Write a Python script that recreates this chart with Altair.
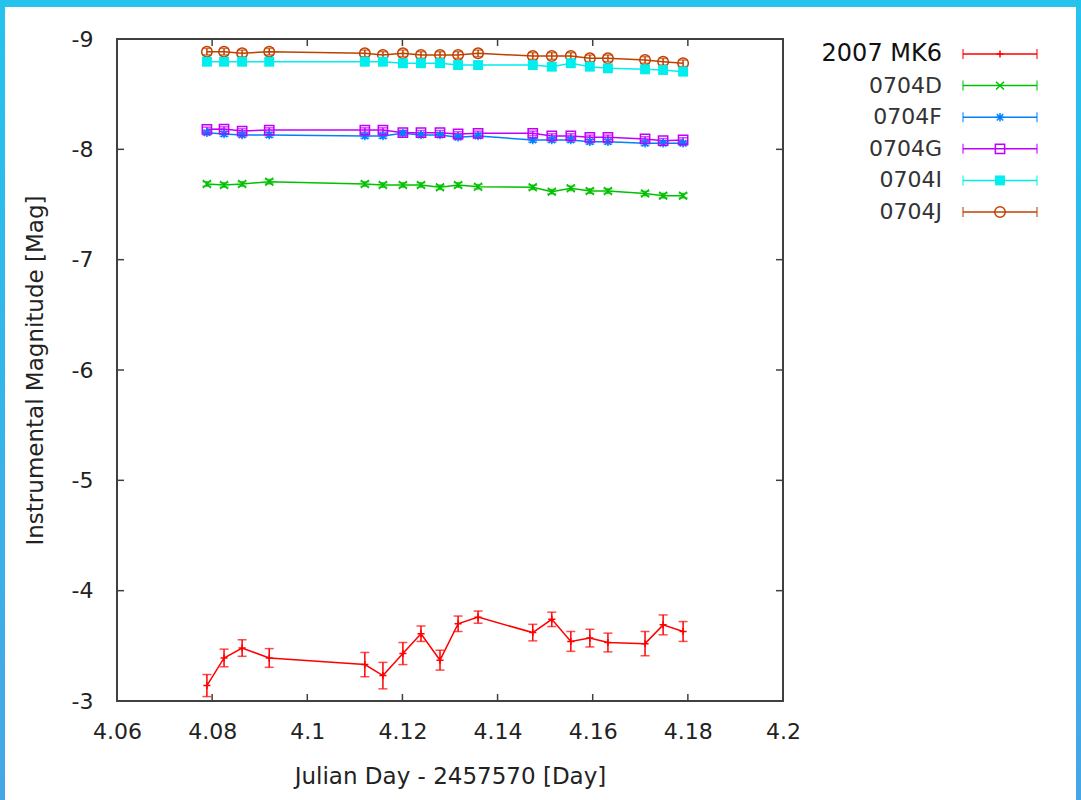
import altair as alt
import pandas as pd

# Observation times (Julian Day - 2457570)
jd = [4.0789, 4.0825, 4.0863, 4.0920, 4.1121, 4.1159, 4.1201, 4.1239, 4.1279,
      4.1317, 4.1359, 4.1474, 4.1514, 4.1554, 4.1594, 4.1632, 4.1710, 4.1748, 4.1790]

star_names = ["2007 MK6", "0704D", "0704F", "0704G", "0704I", "0704J"]
star_colors = ["#ff0000", "#00c000", "#0080ff", "#c000ff", "#00eeee", "#c04000"]

# Instrumental magnitudes and 1-sigma errors per object
mag_mk6 = [-3.14, -3.39, -3.48, -3.39, -3.33, -3.23, -3.43, -3.61, -3.37, -3.70,
           -3.76, -3.62, -3.74, -3.54, -3.57, -3.53, -3.52, -3.69, -3.63]
err_mk6 = [0.10, 0.08, 0.075, 0.085, 0.11, 0.12, 0.10, 0.07, 0.09, 0.07,
           0.055, 0.075, 0.065, 0.09, 0.08, 0.085, 0.11, 0.09, 0.09]

mag_d = [-7.686, -7.677, -7.686, -7.707, -7.686, -7.677, -7.677, -7.677, -7.656, -7.677,
         -7.661, -7.656, -7.616, -7.647, -7.622, -7.622, -7.600, -7.580, -7.580]
err_d = [0.02, 0.02, 0.02, 0.02, 0.02, 0.02, 0.02, 0.02, 0.02, 0.02,
         0.02, 0.02, 0.02, 0.02, 0.02, 0.02, 0.02, 0.02, 0.02]

mag_f = [-8.151, -8.139, -8.130, -8.130, -8.121, -8.121, -8.145, -8.130, -8.130, -8.109,
         -8.121, -8.085, -8.085, -8.085, -8.069, -8.069, -8.055, -8.055, -8.055]
err_f = [0.02, 0.02, 0.02, 0.02, 0.02, 0.02, 0.02, 0.02, 0.02, 0.02,
         0.02, 0.02, 0.02, 0.02, 0.02, 0.02, 0.02, 0.02, 0.02]

mag_g = [-8.181, -8.184, -8.166, -8.175, -8.175, -8.175, -8.151, -8.151, -8.151, -8.139,
         -8.145, -8.145, -8.121, -8.121, -8.109, -8.109, -8.094, -8.078, -8.085]
err_g = [0.02, 0.02, 0.02, 0.02, 0.02, 0.02, 0.02, 0.02, 0.02, 0.02,
         0.02, 0.02, 0.02, 0.02, 0.02, 0.02, 0.02, 0.02, 0.02]

mag_i = [-8.794, -8.794, -8.794, -8.794, -8.794, -8.794, -8.780, -8.780, -8.780, -8.764,
         -8.764, -8.764, -8.749, -8.780, -8.749, -8.734, -8.725, -8.719, -8.704]
err_i = [0.02, 0.02, 0.02, 0.02, 0.02, 0.02, 0.02, 0.02, 0.02, 0.02,
         0.02, 0.02, 0.02, 0.02, 0.02, 0.02, 0.02, 0.02, 0.02]

mag_j = [-8.885, -8.885, -8.870, -8.885, -8.870, -8.855, -8.870, -8.855, -8.855, -8.855,
         -8.870, -8.846, -8.846, -8.846, -8.825, -8.825, -8.810, -8.794, -8.780]
err_j = [0.03, 0.03, 0.03, 0.03, 0.03, 0.03, 0.03, 0.03, 0.03, 0.03,
         0.03, 0.03, 0.03, 0.03, 0.03, 0.03, 0.03, 0.03, 0.03]

x_ticks = [4.06, 4.08, 4.10, 4.12, 4.14, 4.16, 4.18, 4.20]
y_ticks = [-9, -8, -7, -6, -5, -4, -3]

# Point symbols as SVG paths in the unit square
sym_plus = "M-1,0L1,0M0,-1L0,1"
sym_x = "M-1,-1L1,1M-1,1L1,-1"
sym_star = "M-1,0L1,0M0,-1L0,1M-0.75,-0.75L0.75,0.75M-0.75,0.75L0.75,-0.75"
sym_square = "square"
sym_circle = "circle"
star_shapes = [sym_plus, sym_x, sym_star, sym_square, sym_square, sym_circle]
star_sizes = [50, 110, 100, 100, 140, 45]

series = [mag_mk6, mag_d, mag_f, mag_g, mag_i, mag_j]
errors = [err_mk6, err_d, err_f, err_g, err_i, err_j]

rows = []
for name, mags, errs in zip(star_names, series, errors):
    for t, m, e in zip(jd, mags, errs):
        rows.append({"star": name, "jd": t, "mag": m, "lo": m - e, "hi": m + e})
df = pd.DataFrame(rows)

legend_df = pd.DataFrame({"star": star_names, "row": list(range(len(star_names)))})

W, H = 666, 662
FONT = "DejaVu Sans"
FRAME = "#404040"

color = alt.Color("star:N", scale=alt.Scale(domain=star_names, range=star_colors), legend=None)
shape = alt.Shape("star:N", scale=alt.Scale(domain=star_names, range=star_shapes), legend=None)
size = alt.Size("star:N", scale=alt.Scale(domain=star_names, range=star_sizes), legend=None)

x_enc = alt.X("jd:Q", scale=alt.Scale(domain=[4.06, 4.2], nice=False, zero=False),
              axis=alt.Axis(values=x_ticks, format="~g", title="Julian Day - 2457570 [Day]",
                            ticks=False, domain=False, grid=False, labelPadding=20,
                            labelFlush=False, titlePadding=23))
y_scale = alt.Scale(domain=[-9, -3], reverse=True, nice=False, zero=False)

base = alt.Chart(df)

lines = base.mark_line(strokeWidth=1.5).encode(
    x=x_enc,
    y=alt.Y("mag:Q", scale=y_scale,
            axis=alt.Axis(values=y_ticks, labelExpr="'' + datum.value",
                          title="Instrumental Magnitude [Mag]", ticks=False, domain=False,
                          grid=False, labelPadding=24, labelFlush=False, titlePadding=24)),
    color=color, detail="star:N", order="jd:Q")

err_rules = base.mark_rule(strokeWidth=1.5).encode(
    x="jd:Q", y=alt.Y("lo:Q", scale=y_scale), y2="hi:Q", color=color)
cap_lo = base.mark_tick(orient="horizontal", size=9, thickness=1.5).encode(
    x="jd:Q", y=alt.Y("lo:Q", scale=y_scale), color=color)
cap_hi = base.mark_tick(orient="horizontal", size=9, thickness=1.5).encode(
    x="jd:Q", y=alt.Y("hi:Q", scale=y_scale), color=color)

pts_open = base.transform_filter(alt.datum.star != "0704I").mark_point(
    filled=False, strokeWidth=1.5, opacity=1).encode(
    x="jd:Q", y=alt.Y("mag:Q", scale=y_scale), color=color, shape=shape, size=size)
pts_fill = base.transform_filter(alt.datum.star == "0704I").mark_point(
    filled=True, opacity=1).encode(
    x="jd:Q", y=alt.Y("mag:Q", scale=y_scale), color=color, shape=shape, size=size)

# Inward-pointing ticks on all four sides of the frame
xt_df = pd.DataFrame({"t": x_ticks})
yt_df = pd.DataFrame({"t": y_ticks})
tick_len = 7
xt_bottom = alt.Chart(xt_df).mark_rule(color=FRAME, strokeWidth=1.5).encode(
    x="t:Q", y=alt.value(H), y2=alt.value(H - tick_len))
xt_top = alt.Chart(xt_df).mark_rule(color=FRAME, strokeWidth=1.5).encode(
    x="t:Q", y=alt.value(0), y2=alt.value(tick_len))
yt_left = alt.Chart(yt_df).mark_rule(color=FRAME, strokeWidth=1.5).encode(
    y=alt.Y("t:Q", scale=y_scale), x=alt.value(0), x2=alt.value(tick_len))
yt_right = alt.Chart(yt_df).mark_rule(color=FRAME, strokeWidth=1.5).encode(
    y=alt.Y("t:Q", scale=y_scale), x=alt.value(W - tick_len), x2=alt.value(W))

# Page border strips
one = pd.DataFrame({"k": [0]})
side_grad = alt.LinearGradient(gradient="linear", x1=0, x2=0, y1=0, y2=1,
                               stops=[alt.GradientStop(color="#24c3ed", offset=0),
                                      alt.GradientStop(color="#46a6e6", offset=1)])
border_top = alt.Chart(one).mark_rect(color="#25c3ed").encode(
    x=alt.value(-117), x2=alt.value(964), y=alt.value(-39), y2=alt.value(-32))
border_left = alt.Chart(one).mark_rect(fill=side_grad).encode(
    x=alt.value(-117), x2=alt.value(-112), y=alt.value(-39), y2=alt.value(761))
border_right = alt.Chart(one).mark_rect(fill=side_grad).encode(
    x=alt.value(959), x2=alt.value(964), y=alt.value(-39), y2=alt.value(761))

main = alt.layer(border_top, border_left, border_right,
                 lines, err_rules, cap_lo, cap_hi, pts_open, pts_fill,
                 xt_bottom, xt_top, yt_left, yt_right)

# Key to the right of the plot
lg = alt.Chart(legend_df)
lg_y = alt.Y("row:Q", scale=alt.Scale(domain=[0, 5], range=[15, 173]), axis=None)
lg_text = lg.mark_text(align="right", baseline="middle", font=FONT).encode(
    x=alt.value(825), y=lg_y, text="star:N",
    size=alt.condition(alt.datum.row == 0, alt.value(24), alt.value(22)),
    color=alt.condition(alt.datum.row == 0, alt.value("#111111"), alt.value("#333333")))
lg_line = lg.mark_rule(strokeWidth=1.5).encode(
    x=alt.value(846), x2=alt.value(920), y=lg_y, color=color)
lg_cap_l = lg.mark_tick(orient="vertical", size=10, thickness=1.5).encode(
    x=alt.value(846), y=lg_y, color=color)
lg_cap_r = lg.mark_tick(orient="vertical", size=10, thickness=1.5).encode(
    x=alt.value(920), y=lg_y, color=color)
lg_pt_open = lg.transform_filter(alt.datum.star != "0704I").mark_point(
    filled=False, strokeWidth=1.5, opacity=1).encode(
    x=alt.value(883), y=lg_y, color=color, shape=shape, size=size)
lg_pt_fill = lg.transform_filter(alt.datum.star == "0704I").mark_point(
    filled=True, opacity=1).encode(
    x=alt.value(883), y=lg_y, color=color, shape=shape, size=size)
key = alt.layer(lg_text, lg_line, lg_cap_l, lg_cap_r, lg_pt_open, lg_pt_fill)

chart = alt.layer(main, key).resolve_scale(
    x="independent", y="independent"
).properties(
    width=W, height=H, padding=0, background="white"
).configure_view(
    stroke=FRAME, strokeWidth=2
).configure_axis(
    labelFont=FONT, labelFontSize=22, labelColor="#222222",
    titleFont=FONT, titleFontSize=23, titleFontWeight="normal", titleColor="#222222"
)

chart.save("out.html", embed_options={"renderer": "svg", "actions": False})
